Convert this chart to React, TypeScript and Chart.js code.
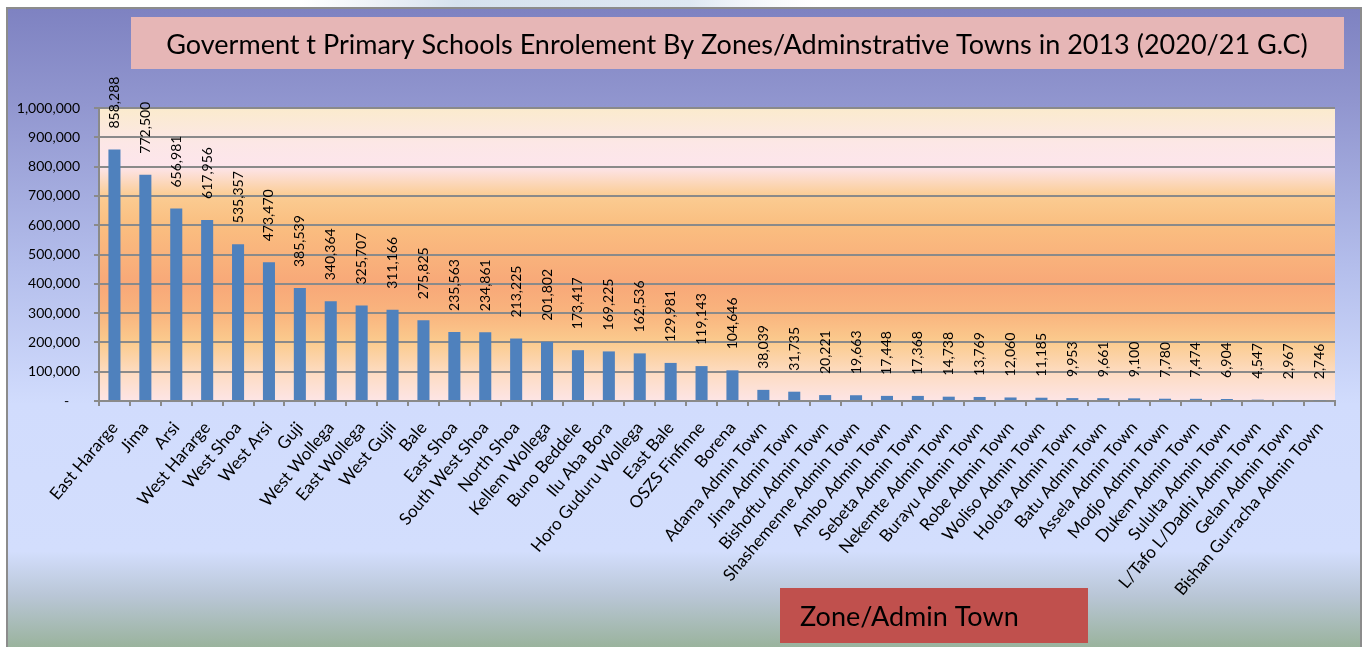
import React, { useEffect, useRef } from "react";
import { Chart, registerables } from "chart.js";

Chart.register(...registerables);

const TITLE = "Goverment t Primary Schools Enrolement By Zones/Adminstrative Towns in 2013 (2020/21 G.C)";
const AXIS_TITLE = "Zone/Admin Town";

const categories: string[] = [
  "East Hararge", "Jima", "Arsi", "West Hararge", "West Shoa", "West Arsi", "Guji",
  "West Wollega", "East Wollega", "West Gujii", "Bale", "East Shoa", "South West Shoa",
  "North Shoa", "Kellem Wollega", "Buno Beddele", "Ilu Aba Bora", "Horo Guduru Wollega",
  "East Bale", "OSZS Finfinne", "Borena",
  "Adama Admin Town", "Jima Admin Town", "Bishoftu Admin Town", "Shashemenne Admin Town",
  "Ambo Admin Town", "Sebeta Admin Town", "Nekemte Admin Town", "Burayu Admin Town",
  "Robe Admin Town", "Woliso Admin Town", "Holota Admin Town", "Batu Admin Town",
  "Assela Admin Town", "Modjo Admin Town", "Dukem Admin Town", "Sululta Admin Town",
  "L/Tafo L/Dadhi Admin Town", "Gelan Admin Town", "Bishan Gurracha Admin Town",
];

const enrolment: number[] = [
  858288, 772500, 656981, 617956, 535357, 473470, 385539, 340364, 325707, 311166,
  275825, 235563, 234861, 213225, 201802, 173417, 169225, 162536, 129981, 119143,
  104646, 38039, 31735, 20221, 19663, 17448, 17368, 14738, 13769, 12060,
  11185, 9953, 9661, 9100, 7780, 7474, 6904, 4547, 2967, 2746,
];

const yMin = 0;
const yMax = 1000000;
const yStep = 100000;

const FONT = "Lato, 'Open Sans', sans-serif";
const W = 1368;
const H = 647;

const fmt = (v: number) => v.toLocaleString("en-US");

const backgroundPlugin = {
  id: "bgPlugin",
  beforeDraw(chart: any) {
    const ctx = chart.ctx as CanvasRenderingContext2D;
    const ca = chart.chartArea;
    ctx.save();
    ctx.fillStyle = "#ffffff";
    ctx.fillRect(0, 0, W, H);
    const sw = ctx.createLinearGradient(300, 0, 820, 0);
    sw.addColorStop(0, "rgba(220,230,240,0)");
    sw.addColorStop(0.3, "rgba(214,226,238,1)");
    sw.addColorStop(0.75, "rgba(222,232,242,1)");
    sw.addColorStop(1, "rgba(240,245,250,0)");
    ctx.fillStyle = sw;
    ctx.fillRect(300, 0, 520, 8);

    const fx = 7, fy = 8, fw = 1354, fh = H - 8 + 4;
    const g = ctx.createLinearGradient(0, fy, 0, H);
    g.addColorStop(0, "#7e82c1");
    g.addColorStop(0.15, "#9196cf");
    g.addColorStop(0.4, "#b3bdeb");
    g.addColorStop(0.62, "#d1dcfd");
    g.addColorStop(0.85, "#d3defd");
    g.addColorStop(0.92, "#b9c6d6");
    g.addColorStop(1, "#9ab39d");
    ctx.fillStyle = g;
    ctx.fillRect(fx, fy, fw, fh);
    ctx.strokeStyle = "#8c8c8c";
    ctx.lineWidth = 2;
    ctx.strokeRect(fx, fy, fw, fh);

    const pg = ctx.createLinearGradient(0, ca.top, 0, ca.bottom);
    pg.addColorStop(0, "#fbebcd");
    pg.addColorStop(0.12, "#fce7e6");
    pg.addColorStop(0.2, "#fde5ec");
    pg.addColorStop(0.3, "#fbcc92");
    pg.addColorStop(0.4, "#fabe80");
    pg.addColorStop(0.6, "#f8a878");
    pg.addColorStop(0.7, "#f9b47e");
    pg.addColorStop(0.8, "#fbcb8e");
    pg.addColorStop(0.9, "#fddbc0");
    pg.addColorStop(1, "#fde5e6");
    ctx.fillStyle = pg;
    ctx.fillRect(ca.left, ca.top, ca.right - ca.left, ca.bottom - ca.top);

    ctx.fillStyle = "#e6b6b6";
    ctx.fillRect(131, 17, 1213, 52);
    ctx.fillStyle = "#000000";
    ctx.font = `27px ${FONT}`;
    ctx.textAlign = "center";
    ctx.textBaseline = "alphabetic";
    ctx.fillText(TITLE, 737, 54);
    ctx.restore();
  },
  afterDatasetsDraw(chart: any) {
    const ctx = chart.ctx as CanvasRenderingContext2D;
    const meta = chart.getDatasetMeta(0);
    const data = chart.data.datasets[0].data as number[];
    ctx.save();
    ctx.fillStyle = "#000000";
    ctx.font = `14px ${FONT}`;
    ctx.textAlign = "left";
    ctx.textBaseline = "middle";
    meta.data.forEach((bar: any, i: number) => {
      ctx.save();
      ctx.translate(bar.x, bar.y - 21);
      ctx.rotate(-Math.PI / 2);
      ctx.fillText(fmt(data[i]), 0, 0);
      ctx.restore();
    });
    ctx.restore();
  },
  afterDraw(chart: any) {
    const ctx = chart.ctx as CanvasRenderingContext2D;
    ctx.save();
    ctx.fillStyle = "#c0504d";
    ctx.fillRect(780, 588, 308, 55);
    ctx.fillStyle = "#000000";
    ctx.font = `27px ${FONT}`;
    ctx.textAlign = "left";
    ctx.textBaseline = "alphabetic";
    ctx.fillText(AXIS_TITLE, 800, 626);
    ctx.restore();
  },
};

export default function App() {
  const canvasRef = useRef<HTMLCanvasElement | null>(null);

  useEffect(() => {
    if (!canvasRef.current) return;
    const chart = new Chart(canvasRef.current, {
      type: "bar",
      data: {
        labels: categories,
        datasets: [
          {
            data: enrolment,
            backgroundColor: "#4f81bd",
            borderWidth: 0,
            barPercentage: 0.39,
            categoryPercentage: 1,
          },
        ],
      },
      options: {
        responsive: false,
        animation: false,
        devicePixelRatio: 1,
        layout: { padding: { left: 0, top: 108, right: 33, bottom: 0 } },
        plugins: {
          legend: { display: false },
          title: { display: false },
          tooltip: { enabled: false },
        },
        scales: {
          x: {
            offset: true,
            afterFit: (scale: any) => {
              scale.height = 246;
            },
            grid: {
              drawOnChartArea: false,
              drawTicks: true,
              tickLength: 5,
              color: "#8a8a8a",
              lineWidth: 2,
            },
            border: { display: true, color: "#8a8a8a", width: 2 },
            ticks: {
              autoSkip: false,
              maxRotation: 50,
              minRotation: 50,
              padding: 12,
              color: "#000000",
              font: { family: FONT, size: 17 },
            },
          },
          y: {
            min: yMin,
            max: yMax,
            afterFit: (scale: any) => {
              scale.width = 99;
            },
            grid: {
              color: "#8a8a8a",
              lineWidth: 2,
              tickLength: 5,
            },
            border: { display: true, color: "#8a8a8a", width: 2 },
            ticks: {
              stepSize: yStep,
              padding: 14,
              color: "#000000",
              font: { family: FONT, size: 14 },
              callback: (v: any) => (Number(v) === 0 ? "-   " : fmt(Number(v))),
            },
          },
        },
      },
      plugins: [backgroundPlugin],
    });
    return () => chart.destroy();
  }, []);

  return (
    <div style={{ position: "fixed", left: 0, top: 0, width: W, height: H, overflow: "hidden" }}>
      <canvas ref={canvasRef} width={W} height={H} style={{ width: W, height: H, display: "block" }} />
    </div>
  );
}
